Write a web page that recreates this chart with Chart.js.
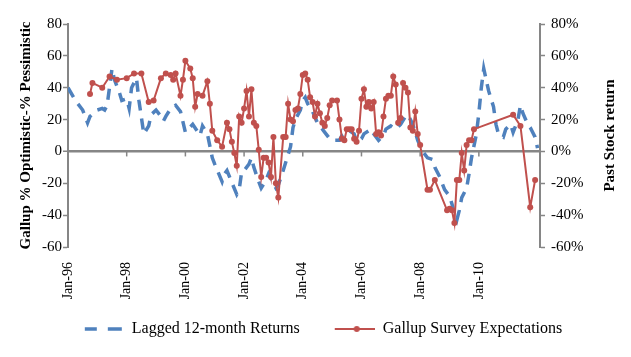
<!DOCTYPE html>
<html>
<head>
<meta charset="utf-8">
<script src="https://cdn.jsdelivr.net/npm/chart.js@4/dist/chart.umd.min.js"></script>
<style>
  html, body { margin: 0; padding: 0; background: #ffffff; }
  #wrap { width: 631px; height: 357px; }
</style>
</head>
<body>
<div id="wrap"><canvas id="c" width="631" height="357"></canvas></div>
<script>
// ---- Data (months counted from Jan-1996) ----
const xTickMonths = [0, 24, 48, 72, 96, 120, 144, 168];
const xTickLabels = ['Jan-96', 'Jan-98', 'Jan-00', 'Jan-02', 'Jan-04', 'Jan-06', 'Jan-08', 'Jan-10'];

const returnsLabel = 'Lagged 12-month Returns';
const returnMonths = [0, 3, 6, 8, 9, 12, 14, 15, 16, 18, 19, 21, 22, 24, 25, 26, 28, 29, 31, 33, 34, 36, 38, 39, 40, 42, 44, 46, 48, 51, 54, 55, 57, 59, 60, 63, 64, 65, 69, 70, 71, 72, 74, 75, 76, 78, 79, 81, 82, 85, 86, 88, 89, 91, 92, 93, 95, 96, 97, 98, 100, 102, 105, 107, 108, 111, 112, 115, 117, 118, 120, 121, 124, 125, 127, 129, 130, 132, 134, 136, 138, 139, 141, 143, 145, 147, 149, 150, 152, 154, 156, 157, 158, 159, 160, 161, 163, 164, 165, 167, 168, 169, 170, 171, 172, 174, 175, 176, 178, 179, 181, 182, 184, 185, 186, 188, 189, 191, 192];
const returnValues = [40, 32, 26, 18, 22, 26, 27, 26, 29, 52, 45, 37, 32, 33, 27, 40, 46, 32, 11, 16, 23, 26, 22, 19, 22, 27, 29, 25, 12, 17, 10, 16, 11, -4, -8, -19, -14, -12, -27, -24, -13, -12, -8, -4, -10, -19, -23, -18, -14, -23, -21, -12, -7, 3, 15, 20, 26, 32, 34, 30, 25, 18, 12, 8, 7, 7, 10, 13, 11, 6, 8, 11, 14, 11, 7, 10, 14, 16, 14, 17, 22, 23, 17, 7, 0, -4, -5, -10, -16, -24, -28, -33, -39, -43, -37, -29, -23, -14, -4, 11, 24, 40, 52, 45, 38, 28, 17, 11, 9, 14, 17, 12, 20, 29, 24, 17, 15, 9, 2];

const gallupLabel = 'Gallup Survey Expectations';
const gallupMonths = [9, 10, 14, 17, 20, 24, 27, 30, 33, 35, 38, 40, 42, 43, 44, 46, 47, 48, 50, 51, 52, 53, 55, 57, 58, 59, 61, 63, 65, 66, 67, 68, 69, 70, 71, 72, 73, 74, 75, 76, 77, 78, 79, 80, 81, 82, 83, 84, 85, 86, 88, 89, 90, 91, 92, 93, 94, 95, 96, 97, 98, 99, 100, 101, 102, 103, 104, 105, 106, 107, 108, 110, 111, 112, 113, 114, 115, 116, 117, 118, 119, 120, 121, 122, 123, 124, 125, 126, 127, 128, 129, 130, 131, 132, 133, 134, 135, 136, 137, 138, 139, 140, 141, 142, 143, 144, 147, 148, 150, 155, 156, 157, 158, 159, 160, 161, 162, 163, 164, 165, 166, 182, 185, 189, 191];
const gallupValues = [36, 43, 40, 47, 45, 46, 49, 49, 31, 32, 46, 49, 48, 45, 49, 35, 45, 57, 52, 46, 28, 36, 35, 44, 30, 13, 7, 3, 18, 14, 6, -1, -9, 22, 18, 27, 38, 22, 39, 18, 16, 1, -16, -4, -4, -7, -16, 9, -20, -29, 9, 9, 30, 20, 19, 26, 27, 36, 48, 49, 45, 34, 31, 22, 30, 24, 18, 16, 21, 29, 32, 32, 20, 8, 7, 14, 14, 14, 8, 6, 13, 33, 39, 28, 31, 27, 31, 11, 12, 10, 22, 33, 35, 35, 47, 42, 18, 21, 43, 40, 37, 15, 13, 25, 11, 4, -24, -24, -18, -37, -36, -37, -45, -18, -18, -1, -12, 4, 7, 7, 14, 23, 16, -35, -18];

const leftTitle = 'Gallup % Optimistic-% Pessimistic';
const rightTitle = 'Past Stock return';

// ---- Styles ----
const BLUE = '#4F81BD';
const RED = '#C0504D';
const AXIS = '#868686';
const FONT = "'Liberation Serif', 'Times New Roman', serif";
const SW = 45; // legend swatch slot width

function legendSwatch(kind) {
  const cv = document.createElement('canvas');
  cv.width = SW; cv.height = 10;
  const g = cv.getContext('2d');
  if (kind === 'dash') {
    g.strokeStyle = BLUE; g.lineWidth = 3.5;
    g.beginPath(); g.moveTo(SW - 39, 5); g.lineTo(SW - 27, 5); g.moveTo(SW - 16, 5); g.lineTo(SW - 2, 5); g.stroke();
  } else {
    g.strokeStyle = RED; g.lineWidth = 2;
    g.beginPath(); g.moveTo(SW - 40, 5); g.lineTo(SW, 5); g.stroke();
    g.fillStyle = RED; g.beginPath(); g.arc(SW - 18, 5, 3, 0, Math.PI * 2); g.fill();
  }
  return cv;
}
const swatches = [legendSwatch('dash'), legendSwatch('line')];

const zeroTicks = {
  id: 'zeroTicks',
  afterDatasetsDraw(chart) {
    const x = chart.scales.x, y = chart.scales.y;
    const ctx = chart.ctx, y0 = y.getPixelForValue(0);
    ctx.save();
    ctx.strokeStyle = AXIS; ctx.lineWidth = 1.5;
    for (const m of xTickMonths.slice(1)) {
      const px = x.getPixelForValue(m);
      ctx.beginPath(); ctx.moveTo(px, y0); ctx.lineTo(px, y0 + 5); ctx.stroke();
    }
    ctx.restore();
  }
};

const rightTitlePlugin = {
  id: 'rightTitle',
  afterDraw(chart) {
    const ca = chart.chartArea, ctx = chart.ctx;
    ctx.save();
    ctx.translate(610, (ca.top + ca.bottom) / 2);
    ctx.rotate(-Math.PI / 2);
    ctx.font = "bold 15px " + FONT;
    ctx.fillStyle = '#000';
    ctx.textAlign = 'center'; ctx.textBaseline = 'middle';
    ctx.fillText(rightTitle, 0, 0);
    ctx.restore();
  }
};

new Chart(document.getElementById('c'), {
  type: 'line',
  data: {
    datasets: [
      {
        label: returnsLabel,
        data: returnMonths.map((m, i) => ({ x: m, y: returnValues[i] })),
        yAxisID: 'y1',
        borderColor: BLUE, backgroundColor: BLUE,
        borderWidth: 3.5, borderDash: [11, 8],
        pointRadius: 0, tension: 0, order: 1
      },
      {
        label: gallupLabel,
        data: gallupMonths.map((m, i) => ({ x: m, y: gallupValues[i] })),
        yAxisID: 'y',
        borderColor: RED, backgroundColor: RED,
        borderWidth: 2, pointRadius: 3, pointBorderWidth: 0,
        tension: 0, order: 0
      }
    ]
  },
  plugins: [zeroTicks, rightTitlePlugin],
  options: {
    responsive: false, animation: false,
    layout: { padding: { left: 10, right: 0, top: 24, bottom: 10 } },
    plugins: {
      tooltip: { enabled: false },
      legend: {
        position: 'bottom',
        labels: {
          usePointStyle: true, pointStyleWidth: SW, boxHeight: 10,
          padding: 30,
          color: '#000',
          font: { family: FONT, size: 16 },
          generateLabels(chart) {
            return chart.data.datasets.map((ds, i) => ({
              text: ds.label, pointStyle: swatches[i], fillStyle: 'transparent',
              strokeStyle: 'transparent', lineWidth: 0, datasetIndex: i, hidden: false, fontColor: '#000'
            }));
          }
        }
      }
    },
    scales: {
      x: {
        type: 'linear', min: 0, max: 193,
        grid: { display: false }, border: { display: false },
        afterBuildTicks(scale) { scale.ticks = xTickMonths.map(v => ({ value: v })); },
        afterFit(scale) {
          scale.height = 44;
          scale._computeLabelArea = () => undefined; // let rotated labels extend below the box
        },
        ticks: {
          autoSkip: false, minRotation: 90, maxRotation: 90, padding: 7,
          color: '#000', font: { family: FONT, size: 14 },
          callback(v) { const i = xTickMonths.indexOf(v); return i >= 0 ? xTickLabels[i] : ''; }
        }
      },
      y: {
        position: 'left', min: -60, max: 80,
        afterFit(scale) { scale.width = 58; },
        ticks: { stepSize: 20, color: '#000', font: { family: FONT, size: 15 }, padding: 1 },
        grid: {
          color: c => (c.tick && c.tick.value === 0) ? AXIS : 'transparent',
          lineWidth: c => (c.tick && c.tick.value === 0) ? 2.5 : 1,
          tickColor: AXIS, tickLength: 5, tickWidth: 1.5
        },
        border: { color: AXIS, width: 2 },
        title: { display: true, text: leftTitle, color: '#000', font: { family: FONT, size: 15, weight: 'bold' }, padding: { top: 7, bottom: 2 } }
      },
      y1: {
        position: 'right', min: -60, max: 80,
        afterFit(scale) { scale.width = 91; },
        ticks: { stepSize: 20, color: '#000', font: { family: FONT, size: 15 }, padding: 6, callback: v => v + '%' },
        grid: { drawOnChartArea: false, tickColor: AXIS, tickLength: 5, tickWidth: 1.5 },
        border: { color: AXIS, width: 2 }
      }
    }
  }
});
</script>
</body>
</html>
